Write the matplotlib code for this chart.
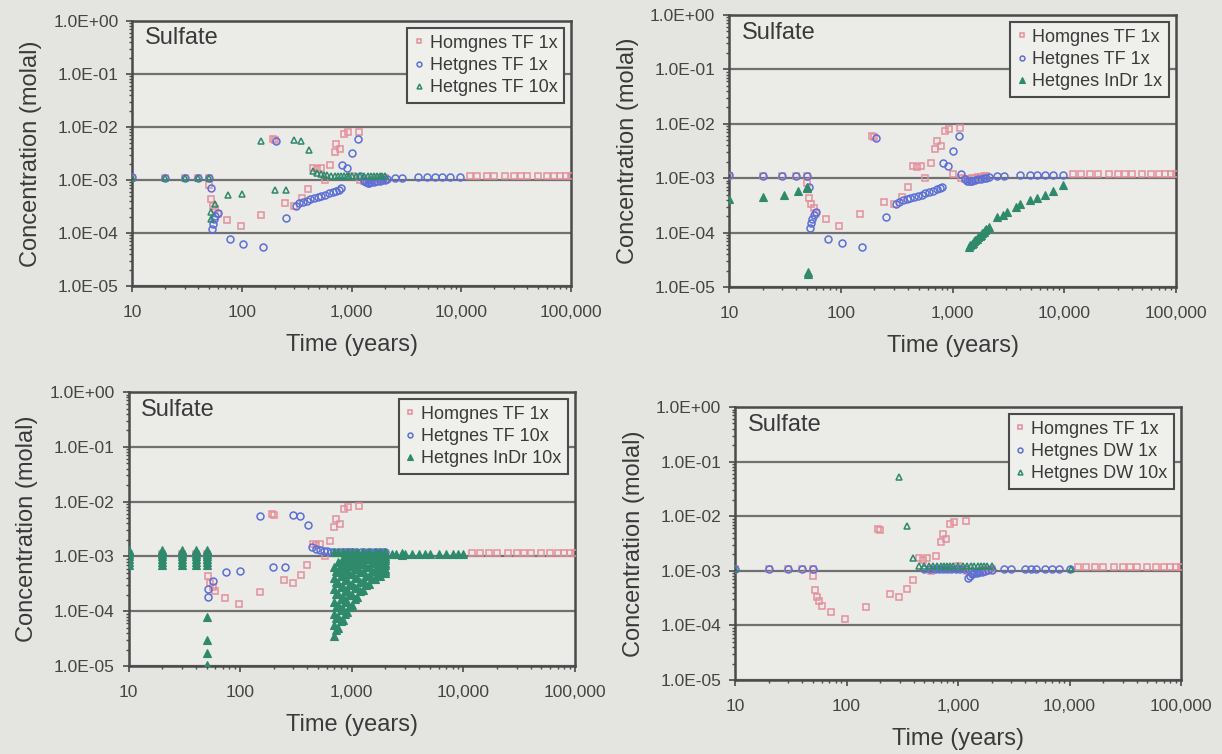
import matplotlib
matplotlib.use("Agg")
import matplotlib.pyplot as plt
from matplotlib.ticker import FixedLocator, FuncFormatter, LogLocator, NullFormatter

plt.rcParams['font.family'] = ['Liberation Sans', 'DejaVu Sans']

# Homgnes TF 1x (same base case in every panel)
hom_t = [10, 20, 30, 40, 50, 50, 52, 54, 57, 60, 73, 97, 150, 192, 200,
         245, 298, 350, 397, 446, 480, 524, 570, 640, 697, 726, 786, 850, 920, 1000,
         1172, 1200, 1300, 1400, 1500, 1600, 1700, 1800, 1900, 2000,
         12000, 14000, 17000, 20000, 25000, 30000, 35000, 40000, 50000, 60000,
         70000, 80000, 90000, 100000]
hom_c = [1.1e-3, 1.1e-3, 1.1e-3, 1.1e-3, 1.1e-3, 8.1e-4, 4.4e-4, 3.3e-4, 2.8e-4, 2.3e-4, 1.76e-4, 1.33e-4, 2.2e-4, 5.9e-3, 5.6e-3,
         3.7e-4, 3.3e-4, 4.6e-4, 6.9e-4, 1.7e-3, 1.6e-3, 1.7e-3, 1.0e-3, 1.9e-3, 3.4e-3, 4.8e-3, 3.9e-3, 7.3e-3, 8.0e-3, 1.2e-3,
         8.2e-3, 1.0e-3, 9.5e-4, 9.5e-4, 1.0e-3, 1.0e-3, 1.05e-3, 1.05e-3, 1.1e-3, 1.1e-3,
         1.17e-3, 1.17e-3, 1.17e-3, 1.17e-3, 1.17e-3, 1.17e-3, 1.17e-3, 1.17e-3, 1.17e-3, 1.17e-3,
         1.17e-3, 1.17e-3, 1.17e-3, 1.17e-3]

# Hetgnes TF 1x
het1_t = [10, 20, 30, 40, 50, 52, 53, 54, 55, 57, 60, 77, 103, 156, 206,
          252, 309, 333, 360, 390, 420, 450, 490, 530, 570, 620, 670, 720, 770, 805,
          820, 910, 1010, 1140, 1200, 1300, 1350, 1400, 1450, 1500, 1600, 1700, 1800, 1900,
          2000, 2100, 2500, 2900, 4000, 4900, 5700, 6700, 7900, 9800]
het1_c = [1.15e-3, 1.1e-3, 1.1e-3, 1.1e-3, 1.1e-3, 7e-4, 1.2e-4, 1.5e-4, 1.8e-4, 2.1e-4, 2.4e-4, 7.7e-5, 6.3e-5, 5.5e-5, 5.5e-3,
          1.9e-4, 3.3e-4, 3.7e-4, 3.9e-4, 4.1e-4, 4.3e-4, 4.5e-4, 4.8e-4, 5.0e-4, 5.3e-4, 5.6e-4, 5.9e-4, 6.2e-4, 6.6e-4, 7e-4,
          1.9e-3, 1.65e-3, 3.2e-3, 6e-3, 1.2e-3, 9.5e-4, 9e-4, 8.8e-4, 8.8e-4, 9e-4, 9.2e-4, 9.5e-4, 9.7e-4, 1.0e-3,
          1.0e-3, 1.05e-3, 1.1e-3, 1.1e-3, 1.15e-3, 1.15e-3, 1.15e-3, 1.15e-3, 1.15e-3, 1.15e-3]

# Hetgnes TF 10x
het10_t = [10, 20, 30, 40, 50, 52, 52, 57, 75, 99, 150, 198, 250, 300, 345, 405,
           440, 480, 520, 560, 600, 650, 700, 750, 800, 850, 900, 950, 1000,
           1100, 1200, 1300, 1400, 1500, 1600, 1700, 1800, 1900, 2000]
het10_c = [1.1e-3, 1.1e-3, 1.1e-3, 1.1e-3, 1.1e-3, 1.8e-4, 2.5e-4, 3.5e-4, 5.1e-4, 5.4e-4, 5.5e-3, 6.5e-4, 6.5e-4, 5.7e-3, 5.5e-3, 3.7e-3,
           1.5e-3, 1.35e-3, 1.3e-3, 1.25e-3, 1.25e-3, 1.2e-3, 1.2e-3, 1.2e-3, 1.2e-3, 1.2e-3, 1.2e-3, 1.2e-3, 1.2e-3,
           1.2e-3, 1.2e-3, 1.2e-3, 1.2e-3, 1.2e-3, 1.2e-3, 1.2e-3, 1.2e-3, 1.2e-3, 1.2e-3]

# Hetgnes InDr 1x
indr1_t = [10, 20, 31, 41, 50, 50, 51, 51,
           1400, 1440, 1480, 1520, 1560, 1600, 1650, 1700, 1750, 1800, 1850, 1900, 1950, 2000,
           2100, 2500, 2800, 3050, 3700, 4000, 4900, 5700, 6700, 7900, 9800]
indr1_c = [4.1e-4, 4.6e-4, 5.0e-4, 5.7e-4, 6.5e-4, 7e-4, 1.7e-5, 1.9e-5,
           5.5e-5, 5.8e-5, 6.1e-5, 6.5e-5, 6.9e-5, 7.3e-5, 7.7e-5, 8.2e-5, 8.7e-5, 9.2e-5, 9.8e-5, 1.04e-4, 1.1e-4, 1.15e-4,
           1.25e-4, 1.9e-4, 2.1e-4, 2.4e-4, 3.0e-4, 3.3e-4, 4.0e-4, 4.4e-4, 5.0e-4, 5.8e-4, 7.6e-4]

# Hetgnes InDr 10x
indr10_t = [10, 10, 10, 10, 10, 10, 10,
            20, 20, 20, 20, 20, 20, 20,
            30, 30, 30, 30, 30, 30, 30,
            40, 40, 40, 40, 40, 40, 40,
            50, 50, 50, 50, 50, 50, 50,
            50, 50, 50, 50,
            700, 760, 830, 900, 1000, 1120, 1260, 1420, 1600, 1800, 2000,
            700, 760, 830, 910, 1000, 1120, 1260, 1420, 1600, 1800, 2000,
            700, 760, 830, 910, 1000, 1120, 1260, 1420, 1600, 1800, 2000,
            700, 760, 830, 910, 1000, 1120, 1260, 1420, 1600, 1800, 2000,
            700, 760, 830, 910, 1000, 1120, 1260, 1420, 1600,
            700, 760, 830, 910, 1000, 1120, 1260,
            700, 760, 830, 910, 1000,
            730, 800, 870, 950, 1060, 1190, 1340, 1510, 1700, 1900,
            730, 800, 870, 950, 1060, 1190, 1340, 1510, 1700, 1900,
            730, 800, 870, 950, 1060, 1190, 1340, 1510, 1700, 1900,
            730, 800, 870, 950, 1060, 1190, 1340, 1510, 1700,
            730, 800, 870, 950, 1060, 1190, 1340,
            730, 800, 870, 950, 1060,
            700, 760, 830, 910, 1000, 1120, 1260, 1420, 1600, 1800, 2000,
            1800, 1800, 1800, 1800, 1800, 1900, 1900, 1900, 1900, 1900,
            2000, 2000, 2000, 2000, 2000, 2000,
            2300, 2500, 2800, 2800, 3000, 3500, 4000, 4500, 5000, 6000, 7000, 8000, 9000, 10000]
indr10_c = [7e-4, 8e-4, 9e-4, 1.0e-3, 1.1e-3, 1.2e-3, 1.3e-3,
            7e-4, 8e-4, 9e-4, 1.0e-3, 1.1e-3, 1.2e-3, 1.3e-3,
            7e-4, 8e-4, 9e-4, 1.0e-3, 1.1e-3, 1.2e-3, 1.3e-3,
            7e-4, 8e-4, 9e-4, 1.0e-3, 1.1e-3, 1.2e-3, 1.3e-3,
            7e-4, 8e-4, 9e-4, 1.0e-3, 1.1e-3, 1.2e-3, 1.3e-3,
            8e-5, 3e-5, 1.7e-5, 1.05e-5,
            3.5e-5, 5e-5, 7e-5, 9.5e-5, 1.3e-4, 1.8e-4, 2.4e-4, 3.1e-4, 3.8e-4, 4.4e-4, 5e-4,
            5.5e-5, 8e-5, 1.1e-4, 1.5e-4, 2e-4, 2.7e-4, 3.5e-4, 4.4e-4, 5.4e-4, 6.3e-4, 7e-4,
            9e-5, 1.3e-4, 1.8e-4, 2.4e-4, 3.1e-4, 4.1e-4, 5.2e-4, 6.4e-4, 7.6e-4, 8.6e-4, 9.5e-4,
            1.5e-4, 2.1e-4, 2.8e-4, 3.7e-4, 4.7e-4, 6e-4, 7.4e-4, 8.8e-4, 1.0e-3, 1.1e-3, 1.15e-3,
            2.5e-4, 3.3e-4, 4.3e-4, 5.5e-4, 6.8e-4, 8.3e-4, 9.7e-4, 1.1e-3, 1.17e-3,
            4e-4, 5.1e-4, 6.4e-4, 7.8e-4, 9.2e-4, 1.05e-3, 1.15e-3,
            6.5e-4, 7.8e-4, 9.2e-4, 1.05e-3, 1.15e-3,
            4.5e-5, 6.5e-5, 9e-5, 1.2e-4, 1.65e-4, 2.3e-4, 3e-4, 3.8e-4, 4.6e-4, 5.3e-4,
            7.5e-5, 1.05e-4, 1.45e-4, 1.95e-4, 2.6e-4, 3.4e-4, 4.4e-4, 5.4e-4, 6.5e-4, 7.5e-4,
            1.2e-4, 1.7e-4, 2.3e-4, 3e-4, 4e-4, 5.1e-4, 6.4e-4, 7.7e-4, 8.9e-4, 1.0e-3,
            2.1e-4, 2.8e-4, 3.7e-4, 4.7e-4, 6e-4, 7.4e-4, 8.9e-4, 1.02e-3, 1.12e-3,
            3.4e-4, 4.4e-4, 5.6e-4, 7e-4, 8.5e-4, 1.0e-3, 1.12e-3,
            5.5e-4, 6.9e-4, 8.4e-4, 1.0e-3, 1.12e-3,
            1.2e-3, 1.2e-3, 1.2e-3, 1.2e-3, 1.2e-3, 1.2e-3, 1.2e-3, 1.2e-3, 1.2e-3, 1.2e-3, 1.2e-3,
            5e-4, 5.7e-4, 7e-4, 7.8e-4, 9.3e-4, 5.3e-4, 6e-4, 6.8e-4, 8e-4, 9e-4,
            5.5e-4, 6e-4, 7.5e-4, 8.5e-4, 1.0e-3, 1.1e-3,
            1.1e-3, 1.1e-3, 1.05e-3, 1.15e-3, 1.1e-3, 1.1e-3, 1.1e-3, 1.1e-3, 1.1e-3, 1.1e-3, 1.1e-3, 1.1e-3, 1.1e-3, 1.1e-3]

# Hetgnes DW 1x
dw1_t = [10, 20, 30, 40, 50, 500, 560, 620, 680, 740, 800, 870, 950, 1050, 1150,
         1230, 1280, 1330, 1400, 1470, 1550, 1650, 1750, 1850, 2000,
         2600, 3000, 4000, 4500, 5000, 6000, 7000, 8000, 10000]
dw1_c = [1.1e-3, 1.1e-3, 1.1e-3, 1.1e-3, 1.1e-3, 1.1e-3, 1.1e-3, 1.1e-3, 1.1e-3, 1.1e-3, 1.1e-3, 1.1e-3, 1.1e-3, 1.1e-3, 1.1e-3,
         7.5e-4, 8.2e-4, 8.8e-4, 9e-4, 9.2e-4, 9.5e-4, 9.7e-4, 1.0e-3, 1.02e-3, 1.05e-3,
         1.1e-3, 1.1e-3, 1.1e-3, 1.1e-3, 1.1e-3, 1.1e-3, 1.1e-3, 1.1e-3, 1.1e-3]

# Hetgnes DW 10x
dw10_t = [10, 298, 351, 397, 450, 500, 550, 600, 650, 700, 750, 800, 850, 900, 1000,
          1100, 1200, 1300, 1400, 1500, 1600, 1700, 1800, 2000, 10300]
dw10_c = [1.1e-3, 5.3e-2, 6.7e-3, 1.7e-3, 1.2e-3, 1.2e-3, 1.2e-3, 1.2e-3, 1.2e-3, 1.2e-3, 1.2e-3, 1.2e-3, 1.2e-3, 1.2e-3, 1.2e-3,
          1.2e-3, 1.2e-3, 1.2e-3, 1.2e-3, 1.2e-3, 1.2e-3, 1.2e-3, 1.2e-3, 1.2e-3, 1.1e-3]

x_ticks = [10, 100, 1000, 10000, 100000]
y_ticks = [1e-5, 1e-4, 1e-3, 1e-2, 1e-1, 1e0]

PINK = '#e58f9b'
BLUE = '#5b6fd6'
GREEN = '#2f8a6c'
BG = '#e4e4e0'
TXT = '#3a3a3a'

fig = plt.figure(figsize=(12.22, 7.54), dpi=100, facecolor=BG)

positions = [
    [0.1084, 0.6207, 0.3588, 0.3515],
    [0.5966, 0.6194, 0.3658, 0.3607],
    [0.1052, 0.1167, 0.3653, 0.3634],
    [0.6015, 0.0981, 0.3650, 0.3621],
]

panels = [
    [(hom_t, hom_c, 'Homgnes TF 1x', 's'), (het1_t, het1_c, 'Hetgnes TF 1x', 'o'), (het10_t, het10_c, 'Hetgnes TF 10x', '^')],
    [(hom_t, hom_c, 'Homgnes TF 1x', 's'), (het1_t, het1_c, 'Hetgnes TF 1x', 'o'), (indr1_t, indr1_c, 'Hetgnes InDr 1x', '^')],
    [(hom_t, hom_c, 'Homgnes TF 1x', 's'), (het10_t, het10_c, 'Hetgnes TF 10x', 'o'), (indr10_t, indr10_c, 'Hetgnes InDr 10x', '^')],
    [(hom_t, hom_c, 'Homgnes TF 1x', 's'), (dw1_t, dw1_c, 'Hetgnes DW 1x', 'o'), (dw10_t, dw10_c, 'Hetgnes DW 10x', '^')],
]
filled_tri = [False, True, True, False]

for i, pos in enumerate(positions):
    ax = fig.add_axes(pos)
    ax.set_facecolor('#ebebe8')
    ax.set_xscale('log')
    ax.set_yscale('log')
    ax.set_xlim(10, 100000)
    ax.set_ylim(1e-5, 1e0)

    colors = [PINK, BLUE, GREEN]
    for (t, c, lab, mk), col in zip(panels[i], colors):
        if mk == '^' and filled_tri[i]:
            ax.plot(t, c, linestyle='none', marker=mk, markersize=5.5, markerfacecolor=col,
                    markeredgecolor=col, markeredgewidth=0.8, label=lab, zorder=3)
        else:
            ax.plot(t, c, linestyle='none', marker=mk, markersize=5, markerfacecolor='none',
                    markeredgecolor=col, markeredgewidth=1.1, label=lab, zorder=3)

    ax.yaxis.set_major_locator(FixedLocator(y_ticks))
    ax.yaxis.set_major_formatter(FuncFormatter(lambda v, p: f"{v:.1E}"))
    ax.yaxis.set_minor_locator(LogLocator(base=10, subs=range(2, 10)))
    ax.yaxis.set_minor_formatter(NullFormatter())
    ax.xaxis.set_major_locator(FixedLocator(x_ticks))
    ax.xaxis.set_major_formatter(FuncFormatter(lambda v, p: f"{int(round(v)):,}"))
    ax.xaxis.set_minor_locator(LogLocator(base=10, subs=range(2, 10)))
    ax.xaxis.set_minor_formatter(NullFormatter())

    ax.grid(True, which='major', axis='y', color='#707070', linewidth=1.6, zorder=1)
    ax.set_axisbelow(True)
    for sp in ax.spines.values():
        sp.set_color('#4a4a4a')
        sp.set_linewidth(1.8)
    ax.tick_params(axis='both', which='major', direction='out', length=4, width=1.2,
                   color='#4a4a4a', labelsize=12.5, labelcolor='#444444')
    ax.tick_params(axis='both', which='minor', direction='out', length=2.5, width=1.0, color='#4a4a4a')
    ax.tick_params(axis='x', which='major', pad=10)
    ax.tick_params(axis='y', which='major', pad=6)

    ax.set_xlabel('Time (years)', fontsize=17, color=TXT, labelpad=10)
    ax.set_ylabel('Concentration (molal)', fontsize=17, color=TXT, labelpad=8)
    ax.text(0.028, 0.935, 'Sulfate', transform=ax.transAxes, fontsize=17, color=TXT,
            ha='left', va='center')

    leg = ax.legend(loc='upper right', fontsize=13, frameon=True, fancybox=False,
                    borderaxespad=0.4, handlelength=0.6, handletextpad=0.3,
                    labelspacing=0.3, borderpad=0.35, markerscale=0.7)
    leg.get_frame().set_edgecolor('#4a4a4a')
    leg.get_frame().set_linewidth(1.5)
    leg.get_frame().set_facecolor('#efefec')
    leg.get_frame().set_alpha(1)
    for txt in leg.get_texts():
        txt.set_color(TXT)

fig.savefig('out.png', dpi=100, facecolor=BG)
